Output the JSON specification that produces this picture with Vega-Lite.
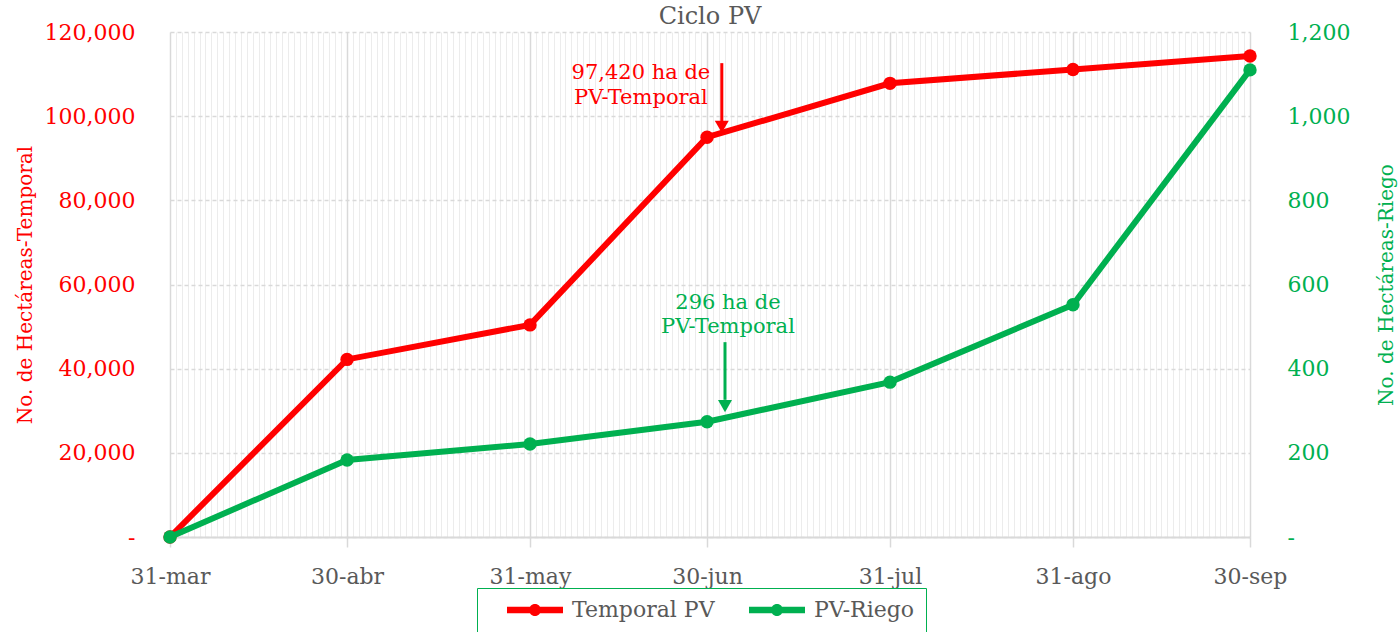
{
  "$schema": "https://vega.github.io/schema/vega-lite/v6.json",
  "width": 1080,
  "height": 505,
  "autosize": {"type": "none"},
  "padding": {"left": 170, "top": 32, "right": 150, "bottom": 95},
  "title": {"text": "Ciclo PV", "fontSize": 24, "font": "DejaVu Serif", "fontWeight": "normal", "color": "#595959", "frame": "group", "offset": 6, "dy": 14},
  "config": {"font": "DejaVu Serif", "view": {"stroke": null}},
  "datasets": {
    "series": [
      {"fecha": "2024/03/31", "serie": "Temporal PV", "valor": 0},
      {"fecha": "2024/04/30", "serie": "Temporal PV", "valor": 42200},
      {"fecha": "2024/05/31", "serie": "Temporal PV", "valor": 50400},
      {"fecha": "2024/06/30", "serie": "Temporal PV", "valor": 95000},
      {"fecha": "2024/07/31", "serie": "Temporal PV", "valor": 107800},
      {"fecha": "2024/08/31", "serie": "Temporal PV", "valor": 111100},
      {"fecha": "2024/09/30", "serie": "Temporal PV", "valor": 114300},
      {"fecha": "2024/03/31", "serie": "PV-Riego", "valor": 0},
      {"fecha": "2024/04/30", "serie": "PV-Riego", "valor": 183},
      {"fecha": "2024/05/31", "serie": "PV-Riego", "valor": 221},
      {"fecha": "2024/06/30", "serie": "PV-Riego", "valor": 274},
      {"fecha": "2024/07/31", "serie": "PV-Riego", "valor": 368},
      {"fecha": "2024/08/31", "serie": "PV-Riego", "valor": 552},
      {"fecha": "2024/09/30", "serie": "PV-Riego", "valor": 1110}
    ],
    "notas": [
      {"eje": "izq", "fecha": "2024/06/18 19:00", "valor": 110250, "texto": "97,420 ha de\nPV-Temporal"},
      {"eje": "der", "fecha": "2024/07/03 13:00", "valor": 557, "texto": "296 ha de\nPV-Temporal"}
    ],
    "flechas": [
      {"eje": "izq", "fecha": "2024/07/02 12:00", "valor": 112600, "valor2": 98800, "punta": 97500},
      {"eje": "der", "fecha": "2024/07/03 01:00", "valor": 463, "valor2": 326, "punta": 311}
    ]
  },
  "layer": [
    {
      "encoding": {
        "x": {
          "field": "fecha", "type": "temporal",
          "scale": {"domain": [{"year": 2024, "month": 3, "date": 31}, {"year": 2024, "month": 9, "date": 30}]},
          "axis": {"orient": "bottom", "grid": true, "gridColor": "#ececec", "gridWidth": 1, "tickCount": {"interval": "day", "step": 1}, "labels": false, "ticks": false, "domain": false, "title": null}
        },
        "y": {
          "field": "valor", "type": "quantitative",
          "scale": {"domain": [0, 120000]},
          "axis": {
            "orient": "left", "values": [0, 20000, 40000, 60000, 80000, 100000, 120000],
            "labelExpr": "datum.value == 0 ? '-\u2002' : format(datum.value, ',')",
            "labelColor": "#ff0000", "labelFontSize": 22, "labelPadding": 35, "ticks": false, "domain": false,
            "grid": true, "gridColor": "#d9d9d9", "gridDash": [4, 3], "gridWidth": 1.5,
            "title": "No. de Hectáreas-Temporal", "titleColor": "#ff0000", "titleFontSize": 20, "titleFontWeight": "normal", "titlePadding": 9
          }
        }
      },
      "layer": [
        {
          "data": {"name": "series"},
          "transform": [{"filter": "datum.serie == 'Temporal PV'"}],
          "mark": {"type": "line", "strokeWidth": 6},
          "encoding": {
            "color": {
              "field": "serie", "type": "nominal",
              "scale": {"domain": ["Temporal PV", "PV-Riego"], "range": ["#ff0000", "#00b050"]},
              "legend": {
                "orient": "none", "legendX": 307, "legendY": 556, "direction": "horizontal", "title": null, "strokeColor": "#00b050", "padding": 11,
                "symbolType": "M-2.8,-0.33L2.8,-0.33L2.8,0.33L-2.8,0.33Z M0.6,0A0.6,0.6,0,1,1,-0.6,0A0.6,0.6,0,1,1,0.6,0Z",
                "symbolSize": 400, "symbolStrokeWidth": 0, "symbolOffset": 36, "labelOffset": 26, "columnPadding": 15,
                "labelFontSize": 22, "labelColor": "#595959",
                "labelExpr": "datum.label == 'PV-Riego' ? 'PV-Riego\u00a0\u00a0' : datum.label",
                "encode": {"symbols": {"update": {"fill": {"scale": "color", "field": "value"}, "strokeWidth": {"value": 0}}}}
              }
            }
          }
        },
        {
          "data": {"name": "series"},
          "transform": [{"filter": "datum.serie == 'Temporal PV'"}],
          "mark": {"type": "point", "filled": true, "size": 180, "opacity": 1},
          "encoding": {"color": {"field": "serie", "type": "nominal"}}
        },
        {
          "data": {"name": "notas"},
          "transform": [{"filter": "datum.eje == 'izq'"}],
          "mark": {"type": "text", "color": "#ff0000", "fontSize": 21, "lineBreak": "\n", "lineHeight": 24.5, "align": "center", "baseline": "middle"},
          "encoding": {"text": {"field": "texto"}}
        },
        {
          "data": {"name": "flechas"},
          "transform": [{"filter": "datum.eje == 'izq'"}],
          "mark": {"type": "rule", "color": "#ff0000", "strokeWidth": 3},
          "encoding": {"y2": {"field": "valor2"}}
        },
        {
          "data": {"name": "flechas"},
          "transform": [{"filter": "datum.eje == 'izq'"}],
          "mark": {"type": "point", "shape": "triangle-down", "filled": true, "color": "#ff0000", "size": 196, "opacity": 1},
          "encoding": {"y": {"field": "punta", "type": "quantitative"}}
        }
      ]
    },
    {
      "encoding": {
        "x": {
          "field": "fecha", "type": "temporal",
          "scale": {"domain": [{"year": 2024, "month": 3, "date": 31}, {"year": 2024, "month": 9, "date": 30}]},
          "axis": {
            "orient": "bottom",
            "values": [
              {"year": 2024, "month": 3, "date": 31}, {"year": 2024, "month": 4, "date": 30}, {"year": 2024, "month": 5, "date": 31},
              {"year": 2024, "month": 6, "date": 30}, {"year": 2024, "month": 7, "date": 31}, {"year": 2024, "month": 8, "date": 31},
              {"year": 2024, "month": 9, "date": 30}
            ],
            "labelExpr": "timeFormat(datum.value, '%d') + '-' + ['ene','feb','mar','abr','may','jun','jul','ago','sep','oct','nov','dic'][month(datum.value)]",
            "labelColor": "#595959", "labelFontSize": 22, "labelPadding": 19, "labelFlush": false,
            "grid": true, "gridColor": "#d9d9d9", "gridWidth": 1.5,
            "ticks": true, "tickColor": "#d9d9d9", "tickSize": 10, "tickWidth": 1.5,
            "domain": true, "domainColor": "#d9d9d9", "domainWidth": 2, "title": null
          }
        },
        "y": {
          "field": "valor", "type": "quantitative",
          "scale": {"domain": [0, 1200]},
          "axis": {
            "orient": "right", "values": [0, 200, 400, 600, 800, 1000, 1200],
            "labelExpr": "datum.value == 0 ? '-' : format(datum.value, ',')",
            "labelColor": "#00b050", "labelFontSize": 22, "labelPadding": 37, "ticks": false, "domain": false, "grid": false,
            "title": "No. de Hectáreas-Riego", "titleColor": "#00b050", "titleFontSize": 20, "titleFontWeight": "normal",
            "titlePadding": 27, "titleAngle": 270, "titleBaseline": "top"
          }
        }
      },
      "layer": [
        {
          "data": {"name": "series"},
          "transform": [{"filter": "datum.serie == 'PV-Riego'"}],
          "mark": {"type": "line", "strokeWidth": 6},
          "encoding": {"color": {"field": "serie", "type": "nominal"}}
        },
        {
          "data": {"name": "series"},
          "transform": [{"filter": "datum.serie == 'PV-Riego'"}],
          "mark": {"type": "point", "filled": true, "size": 180, "opacity": 1},
          "encoding": {"color": {"field": "serie", "type": "nominal"}}
        },
        {
          "data": {"name": "notas"},
          "transform": [{"filter": "datum.eje == 'der'"}],
          "mark": {"type": "text", "color": "#00b050", "fontSize": 21, "lineBreak": "\n", "lineHeight": 24.5, "align": "center", "baseline": "middle"},
          "encoding": {"text": {"field": "texto"}}
        },
        {
          "data": {"name": "flechas"},
          "transform": [{"filter": "datum.eje == 'der'"}],
          "mark": {"type": "rule", "color": "#00b050", "strokeWidth": 3},
          "encoding": {"y2": {"field": "valor2"}}
        },
        {
          "data": {"name": "flechas"},
          "transform": [{"filter": "datum.eje == 'der'"}],
          "mark": {"type": "point", "shape": "triangle-down", "filled": true, "color": "#00b050", "size": 196, "opacity": 1},
          "encoding": {"y": {"field": "punta", "type": "quantitative"}}
        }
      ]
    }
  ],
  "resolve": {"scale": {"y": "independent"}, "axis": {"x": "independent"}}
}
